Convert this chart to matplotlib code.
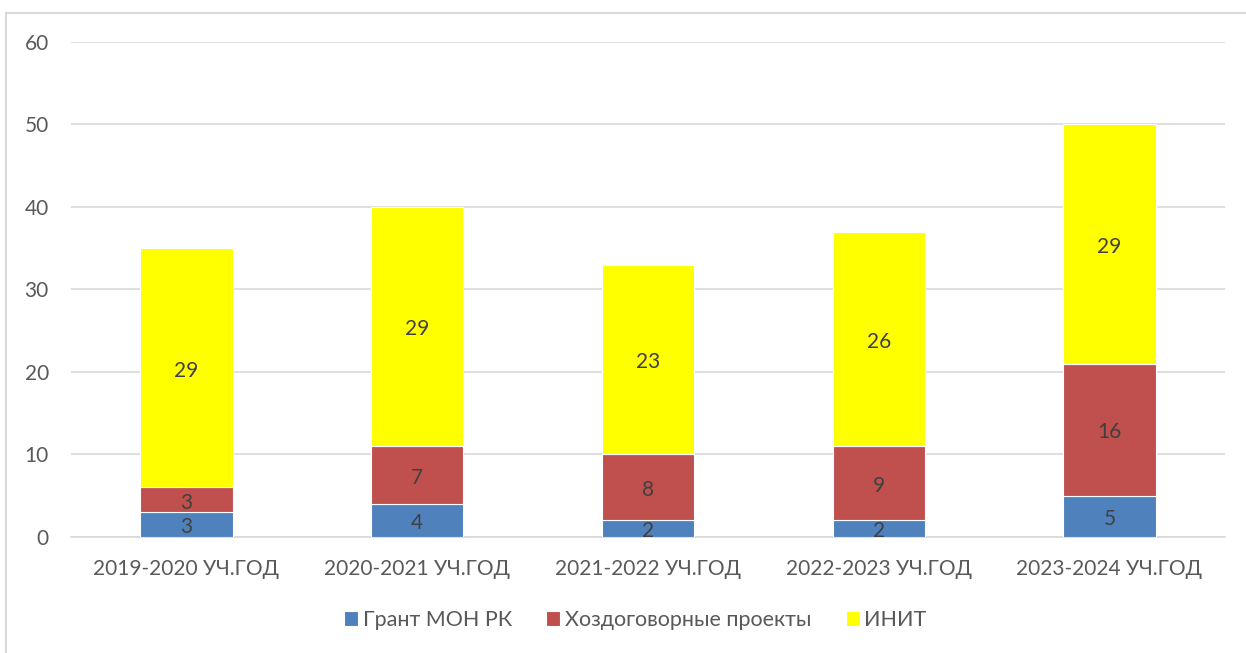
import matplotlib.pyplot as plt
import numpy as np
from matplotlib.patches import Rectangle

plt.rcParams['font.family'] = ['Lato', 'DejaVu Sans']

years = ["2019-2020 УЧ.ГОД", "2020-2021 УЧ.ГОД", "2021-2022 УЧ.ГОД",
         "2022-2023 УЧ.ГОД", "2023-2024 УЧ.ГОД"]
grant = [3, 4, 2, 2, 5]
contract = [3, 7, 8, 9, 16]
init = [29, 29, 23, 26, 29]

series = [("Грант МОН РК", grant, "#4F81BD"),
          ("Хоздоговорные проекты", contract, "#C0504D"),
          ("ИНИТ", init, "#FFFF00")]

fig = plt.figure(figsize=(12.46, 6.53), dpi=100)
ax = fig.add_axes([0.057, 0.1777, 0.926, 0.758])

# light frame around the chart
fig.patches.append(Rectangle((6 / 1246, -0.1), 1.2, 1 - 13 / 653 + 0.1,
                             transform=fig.transFigure, fill=False,
                             edgecolor="#D9D9D9", linewidth=1.5))

x = np.arange(len(years))
bottom = np.zeros(len(years))
for name, vals, col in series:
    bars = ax.bar(x, vals, 0.4, bottom=bottom, color=col, label=name,
                  edgecolor="white", linewidth=0.8, zorder=3)
    ax.bar_label(bars, labels=[str(v) for v in vals], label_type="center",
                 fontsize=15, color="#404040", padding=-2)
    bottom += np.array(vals)

ax.set_xlim(-0.5, len(years) - 0.5)
ax.set_ylim(0, 60)
ax.set_yticks(range(0, 61, 10))
ax.set_xticks(x)
ax.set_xticklabels(years)
ax.grid(axis="y", color="#D9D9D9", linewidth=1.2, zorder=0)
for s in ["top", "right", "left"]:
    ax.spines[s].set_visible(False)
ax.spines["bottom"].set_color("#D9D9D9")
ax.spines["bottom"].set_linewidth(1.2)
ax.tick_params(axis="both", length=0, labelsize=15, labelcolor="#595959")
ax.tick_params(axis="x", pad=16)
ax.tick_params(axis="y", pad=16)

ax.legend(loc="center", bbox_to_anchor=(0.489, -0.168), ncol=3, frameon=False,
          fontsize=15.5, labelcolor="#595959", handlelength=0.65, handleheight=0.65,
          handletextpad=0.2, columnspacing=1.6)

fig.savefig("out.png", dpi=100)
